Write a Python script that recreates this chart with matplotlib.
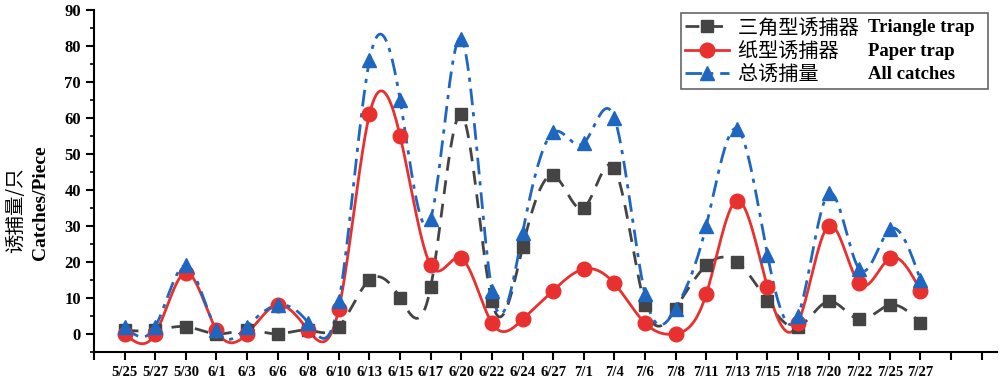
import numpy as np
import matplotlib as mpl
import matplotlib.pyplot as plt

# 数据
dates = ['5/25', '5/27', '5/30', '6/1', '6/3', '6/6', '6/8', '6/10', '6/13', '6/15',
         '6/17', '6/20', '6/22', '6/24', '6/27', '7/1', '7/4', '7/6', '7/8', '7/11',
         '7/13', '7/15', '7/18', '7/20', '7/22', '7/25', '7/27']
triangle = [1, 1, 2, 0, 1, 0, 1, 2, 15, 10, 13, 61, 9, 24, 44, 35, 46, 8, 7, 19,
            20, 9, 2, 9, 4, 8, 3]
paper = [0, 0, 17, 1, 0, 8, 1, 7, 61, 55, 19, 21, 3, 4, 12, 18, 14, 3, 0, 11,
         37, 13, 3, 30, 14, 21, 12]
total = [2, 2, 19, 1, 2, 8, 3, 9, 76, 65, 32, 82, 12, 28, 56, 53, 60, 11, 7, 30,
         57, 22, 5, 39, 18, 29, 15]

names_zh = ['三角型诱捕器', '纸型诱捕器', '总诱捕量']
names_en = ['Triangle trap', 'Paper trap', 'All catches']


def natural_spline(x, y, n=40):
    # 自然三次样条插值, 用于画平滑曲线
    x = np.asarray(x, float)
    y = np.asarray(y, float)
    k = len(x)
    h = np.diff(x)
    A = np.zeros((k, k))
    b = np.zeros(k)
    A[0, 0] = 1
    A[-1, -1] = 1
    for i in range(1, k - 1):
        A[i, i - 1] = h[i - 1]
        A[i, i] = 2 * (h[i - 1] + h[i])
        A[i, i + 1] = h[i]
        b[i] = 3 * ((y[i + 1] - y[i]) / h[i] - (y[i] - y[i - 1]) / h[i - 1])
    c = np.linalg.solve(A, b)
    xs, ys = [], []
    for i in range(k - 1):
        bi = (y[i + 1] - y[i]) / h[i] - h[i] * (2 * c[i] + c[i + 1]) / 3
        di = (c[i + 1] - c[i]) / (3 * h[i])
        t = np.linspace(0, h[i], n, endpoint=(i == k - 2))
        xs.append(x[i] + t)
        ys.append(y[i] + bi * t + c[i] * t ** 2 + di * t ** 3)
    return np.concatenate(xs), np.concatenate(ys)


serif = ['Liberation Serif', 'DejaVu Serif']
cjk = ['Noto Sans CJK SC', 'DejaVu Sans']

x = np.arange(len(dates))
fig = plt.figure(figsize=(10, 3.82), dpi=100)
ax = fig.add_axes([0.094, 0.079, 0.903, 0.895])

series = [
    (triangle, '#444444', (0, (5, 3.5)), 's', 9),
    (paper, '#e8312f', '-', 'o', 10.5),
    (total, '#1f66c1', (0, (6, 2.5, 1.5, 2.5)), '^', 10.5),
]
handles = []
for i, (vals, c, ls, mk, ms) in enumerate(series):
    sx, sy = natural_spline(x, vals)
    ax.plot(sx, sy, color=c, ls=ls, lw=2, zorder=2 + i)
    ax.plot(x, vals, ls='none', marker=mk, ms=ms, color=c, mec=c, zorder=5 + i)
    h, = ax.plot([], [], color=c, ls=ls, lw=2, marker=mk, ms=ms, mec=c)
    handles.append(h)

ax.set_xlim(-1, 28.5)
ax.set_ylim(-5, 90)
ax.set_xticks(np.arange(-1, 29))
ax.set_xticklabels([''] + dates + ['', ''])
ax.set_yticks(np.arange(0, 91, 10))
ax.set_yticks(np.arange(-5, 90, 5), minor=True)
for s in ['top', 'right']:
    ax.spines[s].set_visible(False)
ax.spines['left'].set_linewidth(1.5)
ax.spines['bottom'].set_linewidth(1.5)
ax.tick_params(axis='both', which='major', direction='out', length=6, width=1.5)
ax.tick_params(axis='y', which='minor', direction='out', length=3, width=1.2)
ax.tick_params(axis='x', pad=4)
for lab in ax.get_xticklabels():
    lab.set_family(serif)
    lab.set_weight('bold')
    lab.set_fontsize(10.5)
for lab in ax.get_yticklabels():
    lab.set_family(serif)
    lab.set_weight('bold')
    lab.set_fontsize(12)

# y轴标题(两行, 中英文不同字体)
fig.text(0.016, 0.45, '诱捕量/只', rotation=90, ha='center', va='center',
         family=cjk, fontsize=14)
fig.text(0.041, 0.47, 'Catches/Piece', rotation=90, ha='center', va='center',
         family=serif, weight='bold', fontsize=14)

# 图例: 中文标签后面留空位, 再补上英文
labels = [n + '\u3000' * (12 - len(n)) + ' ' for n in names_zh]
leg = ax.legend(handles, labels, loc='upper right', bbox_to_anchor=(0.988, 0.965),
                bbox_transform=fig.transFigure, prop={'family': cjk, 'size': 14.5},
                handlelength=2.2, handletextpad=0.45, labelspacing=0.12,
                borderpad=0.2, borderaxespad=0, fancybox=False, edgecolor='#666666',
                framealpha=1)
leg.get_frame().set_linewidth(1.2)

fig.canvas.draw()
inv = fig.transFigure.inverted()
for t, en in zip(leg.get_texts(), names_en):
    bb = t.get_window_extent()
    y0 = inv.transform((bb.x0, bb.y0))[1]
    y1 = inv.transform((bb.x1, bb.y1))[1]
    fig.text(0.868, (y0 + y1) / 2, en, family=serif, weight='bold', fontsize=13.5,
             ha='left', va='center', zorder=10)

plt.savefig('out.png', dpi=100)
